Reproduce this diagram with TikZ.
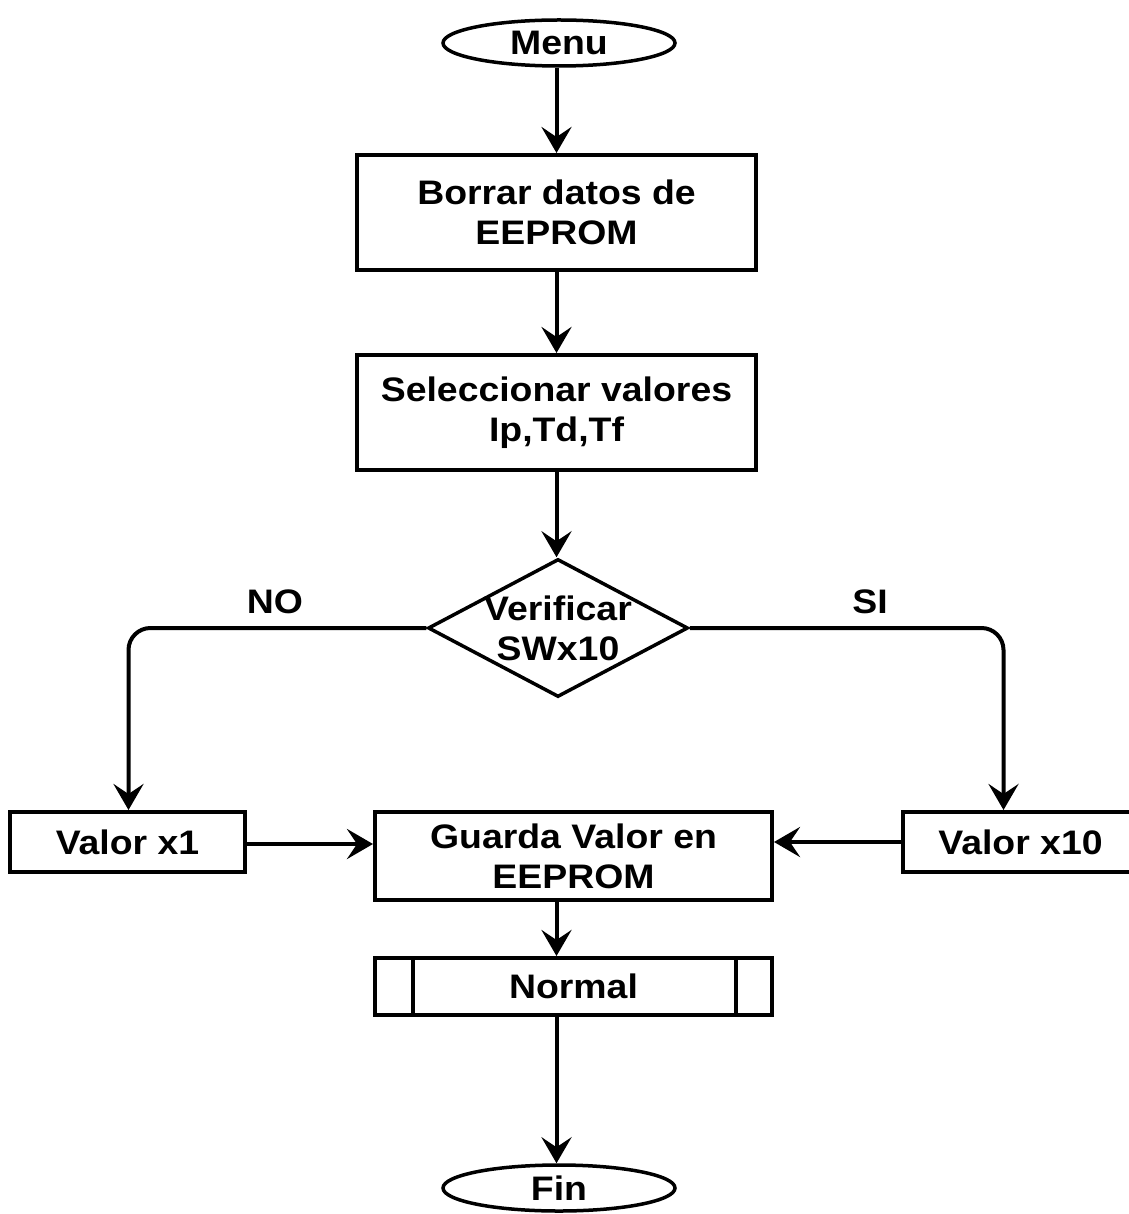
\documentclass[tikz,border=0pt]{standalone}
\usepackage{fontspec}
\setmainfont{Liberation Sans}[FakeStretch=1.1]
\usetikzlibrary{shapes.geometric,arrows.meta}
\begin{document}
\begin{tikzpicture}[x=1pt,y=-1pt,
  every node/.style={font=\fontsize{34}{40}\selectfont\bfseries, align=center, inner sep=0pt},
  term/.style={draw, ellipse, line width=3.5pt, minimum width=232pt, minimum height=46pt},
  proc/.style={draw, rectangle, line width=4pt},
  dec/.style={draw, diamond, line width=3.5pt, minimum width=260pt, minimum height=138pt},
  conn/.style={line width=4pt, -{Stealth[length=26pt,width=30pt,inset=10pt]}},
  lbl/.style={}]
\useasboundingbox (0,0) rectangle (1128,1214);

% terminals, process boxes and the decision
\node[term] (menu) at (559,43) {Menu};
\node[proc, minimum width=399pt, minimum height=115pt] (borrar) at (556.5,212.5) {Borrar datos de\\EEPROM};
\node[proc, minimum width=399pt, minimum height=115pt] (selec) at (556.5,412.5) {Seleccionar valores\\Ip,Td,Tf};
\node[dec, label={[align=center]center:Verificar\\SWx10}] (verif) at (558,628) {};
\node[proc, minimum width=235pt, minimum height=60pt] (vx1) at (127.5,842) {Valor x1};
\node[proc, minimum width=235pt, minimum height=60pt] (vx10) at (1020.5,842) {Valor x10};
\node[proc, minimum width=397pt, minimum height=88pt] (guarda) at (573.5,856) {Guarda Valor en\\EEPROM};
\node[proc, minimum width=397pt, minimum height=57pt] (normal) at (573.5,986.5) {Normal};
\node[term] (fin) at (559,1188) {Fin};

% side bars of the predefined-process box
\draw[line width=3.5pt] ([xshift=40pt]normal.north west) -- ([xshift=40pt]normal.south west);
\draw[line width=3.5pt] ([xshift=-38pt]normal.north east) -- ([xshift=-38pt]normal.south east);

% branch labels
\node[lbl] (no) at (275,602) {NO};
\node[lbl] (si) at (870,602) {SI};

% main flow
\draw[conn] (menu.south -| borrar.north) -- (borrar.north);
\draw[conn] (borrar.south) -- (selec.north);
\draw[conn] (selec.south) -- (selec.south |- verif.north);
\draw[conn, rounded corners=22pt] (verif.west) -| ([xshift=1pt]vx1.north);
\draw[conn, rounded corners=22pt] (verif.east) -| ([xshift=-17pt]vx10.north);
\draw[conn] ([yshift=-2pt]vx1.east) -- ([yshift=-2pt]vx1.east -| guarda.west);
\draw[conn] (vx10.west) -- (vx10.west -| guarda.east);
\draw[conn] (guarda.south -| borrar.south) -- (normal.north -| borrar.south);
\draw[conn] (normal.south -| borrar.south) -- (fin.north -| borrar.south);
\end{tikzpicture}
\end{document}
